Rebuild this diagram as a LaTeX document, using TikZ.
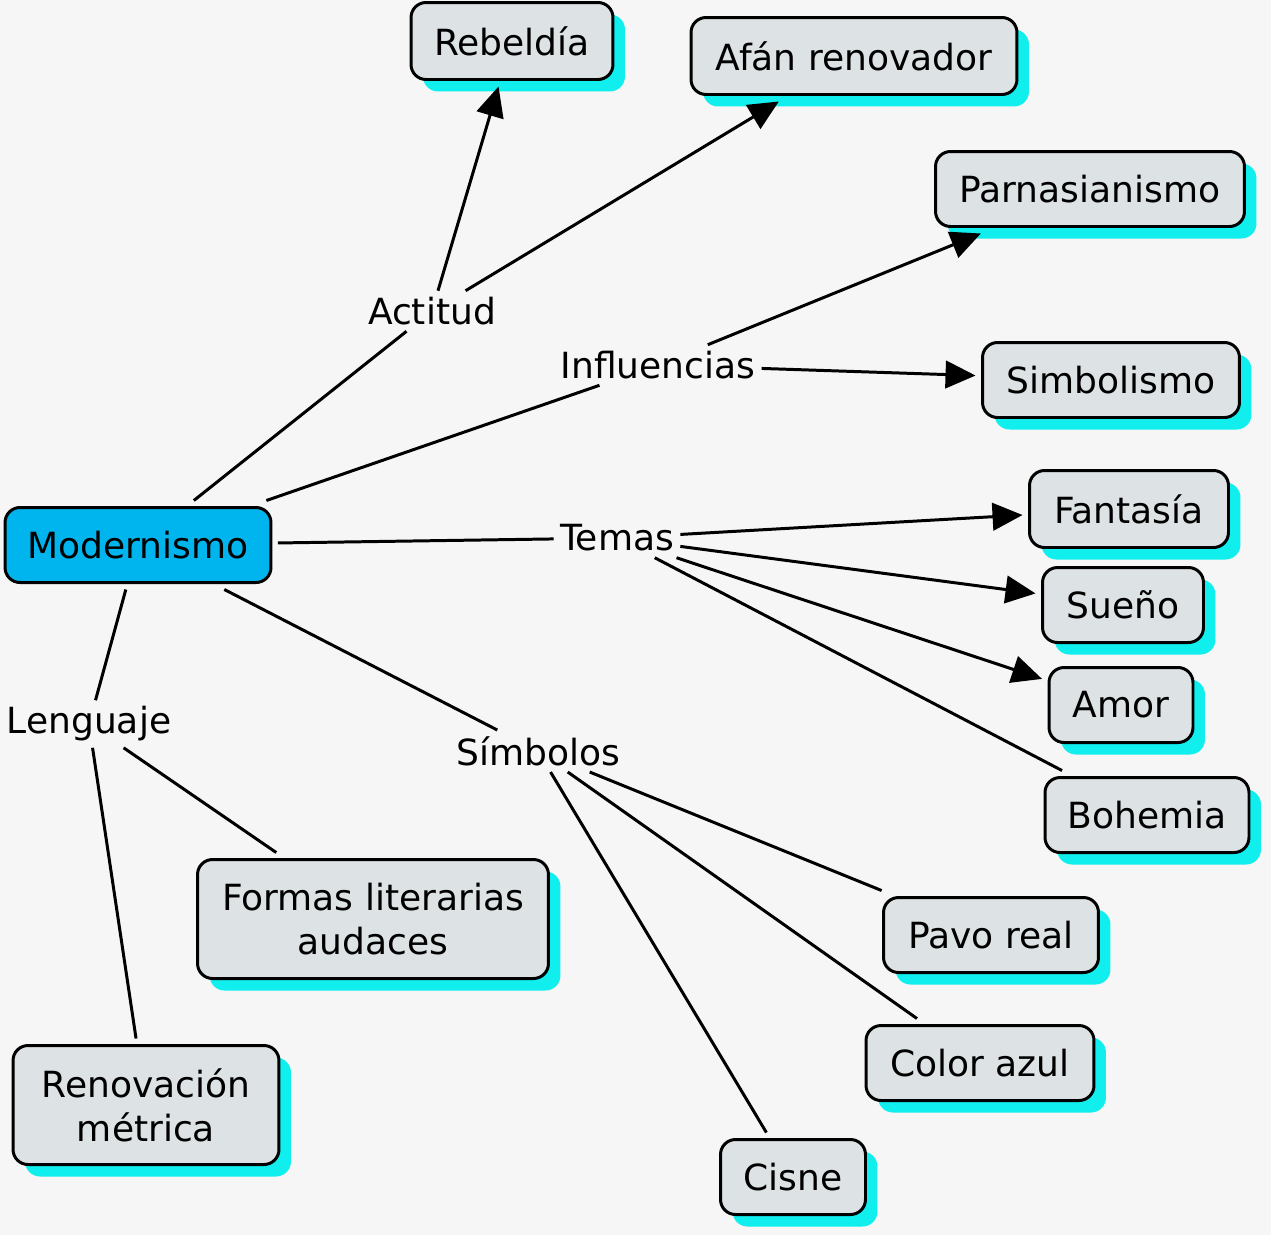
\documentclass[tikz,border=0pt]{standalone}
\usepackage{fontspec}
\setmainfont{DejaVu Sans}
\usetikzlibrary{arrows.meta,shadows}

\definecolor{fondo}{HTML}{F6F6F6}
\definecolor{cajagris}{HTML}{DDE2E4}
\definecolor{sombracian}{HTML}{10EEEE}
\definecolor{azulmod}{HTML}{00B4EE}

\tikzset{
  caja/.style={draw, line width=1.7pt, rounded corners=0.3cm, fill=cajagris,
    minimum height=1.5cm, inner sep=0pt, outer sep=0.14cm, align=center,
    font=\fontsize{20.5}{25}\selectfont},
  concepto/.style={caja,
    drop shadow={shadow xshift=0.24cm, shadow yshift=-0.24cm, fill=sombracian, opacity=1}},
  enlace/.style={fill=fondo, inner sep=0.12cm, font=\fontsize{20.5}{25}\selectfont},
  linea/.style={line width=1.7pt},
  flecha/.style={line width=1.7pt, -{Triangle[length=0.6cm,width=0.55cm]}}
}

\begin{document}
\begin{tikzpicture}[x=0.02cm, y=-0.02cm]
\fill[fondo] (0,0) rectangle (1271,1235);
\useasboundingbox (0,0) rectangle (1271,1235);

% concepts
\node[caja, fill=azulmod, minimum width=5.32cm] (modernismo) at (138,545) {Modernismo};
\node[concepto, minimum width=4.04cm, minimum height=1.54cm] (rebeldia) at (512,41) {Rebeldía};
\node[concepto, minimum width=6.52cm, minimum height=1.54cm] (afan) at (854,56) {Afán renovador};
\node[concepto, minimum width=6.18cm] (parnasianismo) at (1090,189) {Parnasianismo};
\node[concepto, minimum width=5.14cm] (simbolismo) at (1111,380) {Simbolismo};
\node[concepto, minimum width=3.98cm, minimum height=1.54cm] (fantasia) at (1129,509) {Fantasía};
\node[concepto, minimum width=3.22cm] (sueno) at (1123,605) {Sueño};
\node[concepto, minimum width=2.88cm] (amor) at (1121,705) {Amor};
\node[concepto, minimum width=4.08cm] (bohemia) at (1147,815) {Bohemia};
\node[concepto, minimum width=4.3cm] (pavo) at (991,935) {Pavo real};
\node[concepto, minimum width=4.56cm] (color) at (980,1063) {Color azul};
\node[concepto, minimum width=2.9cm] (cisne) at (793,1177) {Cisne};
\node[concepto, minimum width=7.02cm, minimum height=2.38cm] (formas) at (373,919) {Formas literarias\\audaces};
\node[concepto, minimum width=5.32cm, minimum height=2.38cm] (renovacion) at (146,1105) {Renovación\\métrica};

% linking phrases
\node[enlace] (actitud) at (432,311) {Actitud};
\node[enlace] (influencias) at (658,365) {Influencias};
\node[enlace] (temas) at (617,538) {Temas};
\node[enlace] (lenguaje) at (89,724) {Lenguaje};
\node[enlace] (simbolos) at (538,751) {Símbolos};

% connectors
\draw[linea] (modernismo) -- (actitud);
\draw[flecha] (actitud) -- (rebeldia);
\draw[flecha] (actitud) -- (afan);
\draw[linea] (modernismo) -- (influencias);
\draw[flecha] (influencias) -- (parnasianismo);
\draw[flecha] (influencias) -- (simbolismo);
\draw[linea] (modernismo) -- (temas);
\draw[flecha] (temas) -- (fantasia);
\draw[flecha] (temas) -- (sueno);
\draw[flecha] (temas) -- (amor);
\draw[linea] (temas) -- (bohemia);
\draw[linea] (modernismo) -- (simbolos);
\draw[linea] (simbolos) -- (pavo);
\draw[linea] (simbolos) -- (color);
\draw[linea] (simbolos) -- (cisne);
\draw[linea] (modernismo) -- (lenguaje);
\draw[linea] (lenguaje) -- (formas);
\draw[linea] (lenguaje) -- (renovacion);
\end{tikzpicture}
\end{document}
